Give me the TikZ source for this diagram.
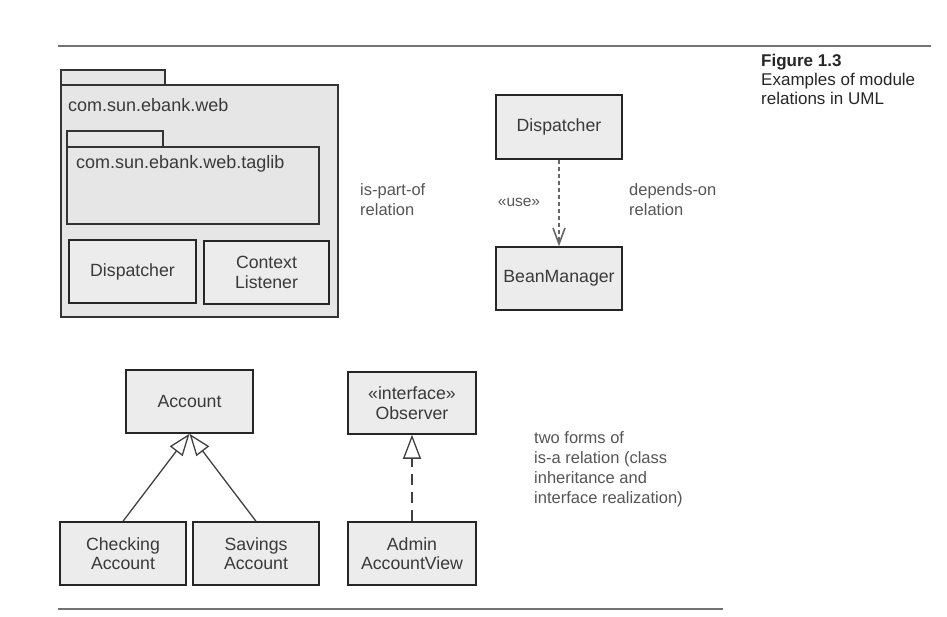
\documentclass[tikz,border=0pt]{standalone}
\usepackage{fontspec}
\setmainfont{Liberation Sans}
\usetikzlibrary{arrows.meta}
\definecolor{boxfill}{HTML}{ECECEC}
\definecolor{pkgfill}{HTML}{E6E6E6}
\definecolor{txt}{HTML}{3A3A3A}
\definecolor{note}{HTML}{555555}
\tikzset{
  umlbox/.style={draw=black!85, line width=1.5pt, fill=boxfill, text=txt, inner sep=0pt,
    align=center, font=\fontsize{17.7pt}{19.5pt}\selectfont},
  pkg/.style={draw=black!80, line width=1.3pt, fill=pkgfill, inner sep=0pt},
  pkgtext/.style={anchor=west, text=txt, inner sep=0pt, font=\fontsize{18pt}{20pt}\selectfont},
  notetext/.style={anchor=west, text=note, inner sep=0pt, align=left, font=\fontsize{16.5pt}{20pt}\selectfont},
  rule/.style={draw=black!55, line width=2pt},
  inherit/.style={draw=black!75, line width=1.3pt, -{Triangle[open, length=22pt, width=16pt, line width=1.3pt]}},
  realize/.style={draw=black!75, line width=1.4pt, dash pattern=on 11pt off 7pt, -{Triangle[open, length=24pt, width=18pt, line width=1.3pt]}},
  depend/.style={draw=black!60, line width=2.4pt, dash pattern=on 4pt off 3pt, -{Straight Barb[length=16pt, width=12pt, line width=1.6pt]}}
}
\begin{document}
\begin{tikzpicture}[x=1pt, y=-1pt]
\useasboundingbox (0,0) rectangle (947,616);
% rules
\coordinate (r1a) at (58,45.5); \coordinate (r1b) at (931,45.5);
\coordinate (r2a) at (58,609); \coordinate (r2b) at (723,609);
\draw[rule] (r1a) -- (r1b);
\draw[rule] (r2a) -- (r2b);
% caption
\node[anchor=north west, inner sep=0pt, align=left, text=black!85,
  font=\fontsize{17pt}{19pt}\selectfont] (cap) at (761,54)
  {\textbf{Figure 1.3}\\Examples of module\\relations in UML};
% outer package
\node[pkg, minimum width=104pt, minimum height=15pt] (otab) at (113,77.5) {};
\node[pkg, minimum width=277pt, minimum height=232pt] (obody) at (199.5,201) {};
\node[pkgtext] (oname) at (68,105) {com.sun.ebank.web};
% inner package
\node[pkg, minimum width=96pt, minimum height=16pt] (itab) at (115,139) {};
\node[pkg, minimum width=252pt, minimum height=77pt] (ibody) at (193,185.5) {};
\node[pkgtext] (iname) at (76,164) {com.sun.ebank.web.taglib};
% classes in package
\node[umlbox, minimum width=127pt, minimum height=63pt] (disp1) at (132.5,271.5) {Dispatcher};
\node[umlbox, minimum width=125pt, minimum height=63pt] (ctx) at (266.5,272.5) {Context\\Listener};
% dependency
\node[umlbox, minimum width=126pt, minimum height=64pt] (disp2) at (559,127) {Dispatcher};
\node[umlbox, minimum width=126pt, minimum height=63pt] (bean) at (559,278.5) {BeanManager};
\draw[depend] (disp2.south) -- (bean.north);
\node[text=note, inner sep=0pt, font=\fontsize{15.5pt}{17pt}\selectfont] (use) at (519,202) {«use»};
\node[notetext] (partof) at (360,200) {is-part-of\\relation};
\node[notetext] (dependson) at (629,200) {depends-on\\relation};
% inheritance
\node[umlbox, minimum width=127pt, minimum height=63pt] (acc) at (189.5,401.5) {Account};
\node[umlbox, minimum width=126pt, minimum height=63pt] (chk) at (123,553.5) {Checking\\Account};
\node[umlbox, minimum width=126pt, minimum height=63pt] (sav) at (256,553.5) {Savings\\Account};
\draw[inherit] (chk.north) -- (acc.south);
\draw[inherit] (sav.north) -- (acc.south);
% realization
\node[umlbox, minimum width=128pt, minimum height=62pt] (obs) at (412,403) {«interface»\\Observer};
\node[umlbox, minimum width=128pt, minimum height=63pt] (adm) at (412,553.5) {Admin\\AccountView};
\draw[realize] (adm.north) -- (obs.south);
\node[notetext] (isa) at (534,469) {two forms of\\is-a relation (class\\inheritance and\\interface realization)};
\end{tikzpicture}
\end{document}
